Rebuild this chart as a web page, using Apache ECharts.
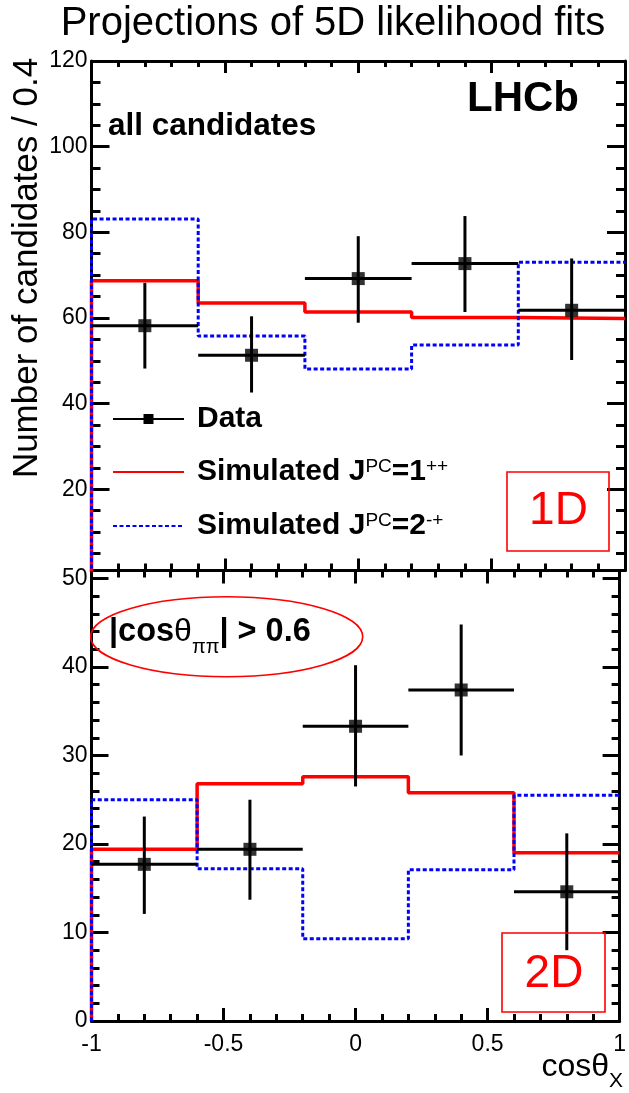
<!DOCTYPE html>
<html><head><meta charset="utf-8">
<script src="https://cdn.jsdelivr.net/npm/echarts@6/dist/echarts.min.js"></script>
<style>html,body{margin:0;padding:0;background:#fff}#c{width:629px;height:1093px}</style>
</head><body><div id="c"></div>
<script>
// ---- data ----
const binEdges = [-1, -0.6, -0.2, 0.2, 0.6, 1];
const binCenters = [-0.8, -0.4, 0, 0.4, 0.8];
const binHalfWidth = [0.2, 0.2, 0.2, 0.2, 0.2];

const topData = [58.2, 51.3, 69.2, 72.7, 61.8];
const topErrLow = [48.2, 42.6, 58.9, 61.4, 50.2];
const topErrHigh = [68.2, 60.4, 79.1, 83.8, 73.9];
const topSim1pp = [68.7, 63.5, 61.4, 60.1, 59.9];
const topSim2mp = [83.1, 55.8, 48.1, 53.7, 73.0];

const botData = [17.7, 19.4, 33.3, 37.4, 14.6];
const botErrLow = [12.1, 13.7, 26.5, 30.0, 8.0];
const botErrHigh = [23.1, 25.0, 40.2, 44.8, 21.2];
const botSim1pp = [19.4, 26.8, 27.6, 25.8, 19.0];
const botSim2mp = [25.0, 17.2, 9.3, 17.1, 25.5];

const topYTicks = [20, 40, 60, 80, 100, 120];
const topYMinor = [5, 10, 15, 25, 30, 35, 45, 50, 55, 65, 70, 75, 85, 90, 95, 105, 110, 115];
const botYTicks = [0, 10, 20, 30, 40, 50];
const botYMinor = [2, 4, 6, 8, 12, 14, 16, 18, 22, 24, 26, 28, 32, 34, 36, 38, 42, 44, 46, 48, 50];
const xRange = [-1, 1];
const xMajorStep = 0.5;
const topYRange = [1.05, 120];
const botYRange = [0, 50.9];

const FONT = "'Liberation Sans', Arial, Helvetica, sans-serif";
const RED = '#ff0000', BLUE = '#0000ff', BLACK = '#000000';

// ---- builders ----
function histPoints(values, base) {
  const pts = [[binEdges[0], base]];
  values.forEach((v, i) => { pts.push([binEdges[i], v]); pts.push([binEdges[i + 1], v]); });
  return pts;
}
function errRows(vals, lo, hi) {
  return vals.map((v, i) => [binCenters[i], v, lo[i], hi[i], binHalfWidth[i]]);
}
function errRender(params, api) {
  const x = api.value(0), y = api.value(1), lo = api.value(2), hi = api.value(3), hw = api.value(4);
  const a = api.coord([x, lo]), b = api.coord([x, hi]);
  const l = api.coord([x - hw, y]), r = api.coord([x + hw, y]);
  const st = { stroke: BLACK, lineWidth: 3 };
  return { type: 'group', children: [
    { type: 'line', shape: { x1: a[0], y1: a[1], x2: b[0], y2: b[1] }, style: st },
    { type: 'line', shape: { x1: l[0], y1: l[1], x2: r[0], y2: r[1] }, style: st }
  ]};
}

const grids = [
  { left: 91.5, top: 61, width: 533.5, height: 509.5 },
  { left: 91.5, top: 570.5, width: 533.5, height: 450.5 }
];

function xAxisDef(gridIndex, position, majLen, minLen, showLabels) {
  return {
    type: 'value', gridIndex, position, min: xRange[0], max: xRange[1], interval: xMajorStep,
    axisLine: { show: true, onZero: false, lineStyle: { color: BLACK, width: 3 } },
    axisTick: { show: true, inside: true, length: majLen, lineStyle: { color: BLACK, width: 3 } },
    minorTick: { show: true, splitNumber: 5, length: minLen, lineStyle: { color: BLACK, width: 3 } },
    splitLine: { show: false },
    axisLabel: { show: showLabels, fontSize: 23, color: BLACK, fontFamily: FONT, margin: 12,
      formatter: v => String(v) }
  };
}
function yAxisDef(gridIndex, position, range, ticks, len, showLine, showLabels) {
  return {
    type: 'value', gridIndex, position, min: range[0], max: range[1],
    axisLine: { show: showLine, onZero: false, lineStyle: { color: BLACK, width: 3 } },
    axisTick: { show: true, inside: true, length: len, customValues: ticks, lineStyle: { color: BLACK, width: 3 } },
    splitLine: { show: false },
    axisLabel: { show: showLabels, customValues: ticks, fontSize: 23, color: BLACK, fontFamily: FONT, margin: 4 }
  };
}

const xAxes = [
  xAxisDef(0, 'bottom', 12, 7, false),
  xAxisDef(0, 'top', 12, 6, false),
  xAxisDef(1, 'bottom', 13, 7, true),
  xAxisDef(1, 'top', 13, 7, false)
];
const yAxes = [
  yAxisDef(0, 'left', topYRange, topYTicks, 18, true, true),
  yAxisDef(0, 'left', topYRange, topYMinor, 9, false, false),
  yAxisDef(0, 'right', topYRange, topYTicks, 18, true, false),
  yAxisDef(0, 'right', topYRange, topYMinor, 9, false, false),
  yAxisDef(1, 'left', botYRange, botYTicks, 17, true, true),
  yAxisDef(1, 'left', botYRange, botYMinor, 8, false, false),
  yAxisDef(1, 'right', botYRange, botYTicks, 17, true, false),
  yAxisDef(1, 'right', botYRange, botYMinor, 8, false, false)
];

const N1 = 'Simulated 1++', N2 = 'Simulated 2-+';
const redLine = { color: RED, width: 3.5 };
const blueLine = { color: BLUE, width: 3, type: [4, 2.5] };

function panelSeries(xi, yi, base, data, lo, hi, s1, s2) {
  return [
    { type: 'line', name: N1, xAxisIndex: xi, yAxisIndex: yi, data: histPoints(s1, base), symbol: 'none',
      lineStyle: redLine, itemStyle: { color: RED }, silent: true, animation: false, z: 3 },
    { type: 'line', name: N2, xAxisIndex: xi, yAxisIndex: yi, data: histPoints(s2, base), symbol: 'none',
      lineStyle: blueLine, itemStyle: { color: BLUE }, silent: true, animation: false, z: 4 },
    { type: 'custom', name: 'Data', xAxisIndex: xi, yAxisIndex: yi, data: errRows(data, lo, hi),
      renderItem: errRender, silent: true, animation: false, z: 5 },
    { type: 'scatter', name: 'Data', xAxisIndex: xi, yAxisIndex: yi, data: binCenters.map((c, i) => [c, data[i]]),
      symbol: 'rect', symbolSize: 13, itemStyle: { color: BLACK }, silent: true, animation: false, z: 6 }
  ];
}

const series = [
  // legend icon carrier for "Data" (line with square marker)
  { type: 'line', name: 'Data', xAxisIndex: 0, yAxisIndex: 0, data: [], symbol: 'rect',
    lineStyle: { color: BLACK, width: 3 }, itemStyle: { color: BLACK }, animation: false },
  ...panelSeries(0, 0, 0, topData, topErrLow, topErrHigh, topSim1pp, topSim2mp),
  ...panelSeries(2, 4, 0, botData, botErrLow, botErrHigh, botSim1pp, botSim2mp)
];

const legendRich = {
  b: { fontSize: 30, fontWeight: 'bold', fontFamily: FONT, color: BLACK },
  sup: { fontSize: 19, fontWeight: 'normal', fontFamily: FONT, color: BLACK, verticalAlign: 'top' }
};
const legendText = {
  'Data': '{b|Data}',
  [N1]: '{b|Simulated J}{sup|PC}{b|=1}{sup|++}',
  [N2]: '{b|Simulated J}{sup|PC}{b|=2}{sup|-+}'
};
function legendDef(name, centerY) {
  const item = { name };
  if (name !== 'Data') item.itemStyle = { color: 'rgba(0,0,0,0)', borderWidth: 0 };
  return {
    show: true, left: 112, top: centerY - 16, padding: 0, orient: 'horizontal',
    itemWidth: 71, itemHeight: 12.5, selectedMode: false,
    data: [item],
    formatter: n => legendText[n],
    textStyle: { rich: legendRich, padding: [0, 0, 0, 8] }
  };
}

const option = {
  backgroundColor: '#ffffff',
  animation: false,
  title: {
    text: 'Projections of 5D likelihood fits', left: 328, top: -1, textAlign: 'center',
    textStyle: { fontSize: 40, fontWeight: 'normal', fontFamily: FONT, color: BLACK }
  },
  grid: grids,
  xAxis: xAxes,
  yAxis: yAxes,
  legend: [legendDef('Data', 420), legendDef(N1, 473), legendDef(N2, 527)],
  series,
  graphic: [
    { type: 'text', x: 27, y: 268, rotation: Math.PI / 2,
      style: { text: 'Number of candidates / 0.4', fontSize: 35, fontFamily: FONT, fill: BLACK,
        align: 'center', verticalAlign: 'middle' } },
    { type: 'text', x: 108, y: 126,
      style: { text: 'all candidates', fontSize: 31.5, fontWeight: 'bold', fontFamily: FONT, fill: BLACK,
        align: 'left', verticalAlign: 'middle' } },
    { type: 'text', x: 579, y: 99,
      style: { text: 'LHCb', fontSize: 42, fontWeight: 'bold', fontFamily: FONT, fill: BLACK,
        align: 'right', verticalAlign: 'middle' } },
    { type: 'rect', shape: { x: 507, y: 472, width: 102, height: 79 },
      style: { fill: 'rgba(0,0,0,0)', stroke: RED, lineWidth: 1.6 }, z: 10 },
    { type: 'text', x: 558.5, y: 511,
      style: { text: '1D', fontSize: 46, fontFamily: FONT, fill: RED, align: 'center', verticalAlign: 'middle' }, z: 10 },
    { type: 'rect', shape: { x: 502, y: 933, width: 103, height: 79 },
      style: { fill: 'rgba(0,0,0,0)', stroke: RED, lineWidth: 1.6 }, z: 10 },
    { type: 'text', x: 554, y: 974,
      style: { text: '2D', fontSize: 46, fontFamily: FONT, fill: RED, align: 'center', verticalAlign: 'middle' }, z: 10 },
    { type: 'ellipse', shape: { cx: 226.7, cy: 636.7, rx: 136, ry: 40 },
      style: { fill: 'rgba(0,0,0,0)', stroke: RED, lineWidth: 1.6 }, z: 10 },
    { type: 'text', x: 109, y: 632,
      style: { text: '{b||cos}{t|θ}{s|ππ}{b|| > 0.6}', align: 'left', verticalAlign: 'middle',
        rich: {
          b: { fontSize: 32.5, fontWeight: 'bold', fontFamily: FONT, fill: BLACK },
          t: { fontSize: 32, fontFamily: FONT, fill: BLACK },
          s: { fontSize: 20, fontFamily: FONT, fill: BLACK, verticalAlign: 'bottom', padding: [0, 0, -9, 0] }
        } }, z: 10 },
    { type: 'text', x: 623, y: 1067,
      style: { text: '{m|cosθ}{s|X}', align: 'right', verticalAlign: 'middle',
        rich: {
          m: { fontSize: 32, fontFamily: FONT, fill: BLACK },
          s: { fontSize: 21, fontFamily: FONT, fill: BLACK, verticalAlign: 'bottom', padding: [0, 0, -9, 0] }
        } }, z: 10 }
  ]
};

const chart = echarts.init(document.getElementById('c'), null, { renderer: 'canvas' });
chart.setOption(option);
</script>
</body></html>
